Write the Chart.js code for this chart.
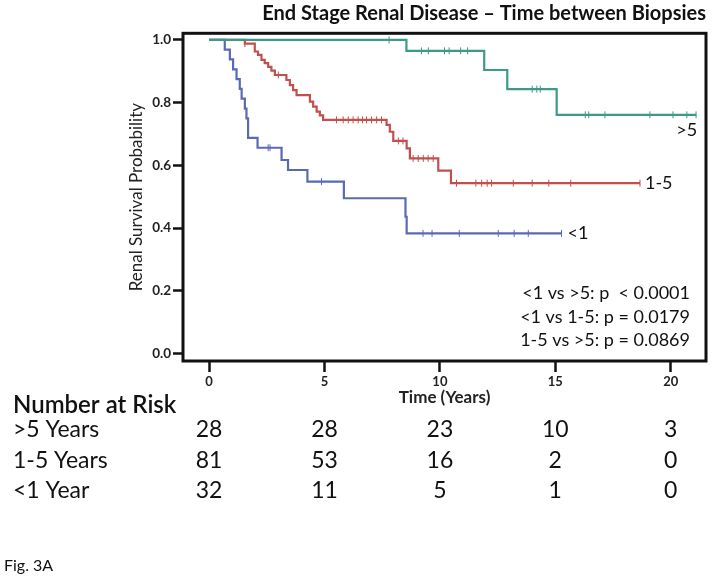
<!DOCTYPE html>
<html>
<head>
<meta charset="utf-8">
<script src="https://cdn.jsdelivr.net/npm/chart.js@4.4.1/dist/chart.umd.min.js"></script>
<style>
html, body { margin: 0; padding: 0; background: #fff; }
#wrap { position: relative; width: 714px; height: 584px; }
</style>
</head>
<body>
<div id="wrap"><canvas id="kmChart" width="714" height="584"></canvas></div>
<script>
var xTicks = [0, 5, 10, 15, 20];
var yTicks = [0, 0.2, 0.4, 0.6, 0.8, 1.0];
var groupNames = ['>5', '1-5', '<1'];
var groupColors = ['#3b9b88', '#c0504d', '#5a69b3'];

// >5 years between biopsies
var over5Times = [0, 8.55, 11.92, 12.92, 15.06];
var over5Surv = [1, 0.965, 0.904, 0.843, 0.761];
var over5End = 21.1;
var over5Censor = [7.8, 9.2, 9.5, 10.2, 10.4, 10.9, 11.2, 14.0, 14.2, 14.35, 16.3, 16.45, 17.15, 19.1, 20.1, 20.7, 21.1];

// 1-5 years
var mid5Times = [0, 1.55, 1.98, 2.12, 2.27, 2.41, 2.56, 2.70, 2.85, 3.35, 3.50, 3.64, 3.79, 4.37, 4.51, 4.66, 4.80, 4.94, 7.69, 7.83, 7.98, 8.56, 8.70, 9.93, 10.48];
var mid5Surv = [1, 0.988, 0.963, 0.952, 0.936, 0.926, 0.914, 0.902, 0.888, 0.872, 0.856, 0.840, 0.824, 0.803, 0.787, 0.771, 0.759, 0.745, 0.729, 0.707, 0.678, 0.654, 0.622, 0.583, 0.543];
var mid5End = 18.67;
var mid5Censor = [1.55, 3.0, 5.52, 5.81, 6.03, 6.24, 6.46, 6.65, 6.82, 7.04, 7.26, 7.47, 8.2, 8.4, 8.84, 9.06, 9.28, 9.49, 9.71, 10.72, 11.56, 11.81, 12.05, 12.24, 13.18, 14.0, 14.72, 15.67, 18.67];

// <1 year
var under1Times = [0, 0.68, 0.9, 1.04, 1.19, 1.33, 1.41, 1.55, 1.62, 1.69, 2.1, 3.14, 3.42, 4.26, 5.84, 8.51, 8.56];
var under1Surv = [1, 0.969, 0.938, 0.906, 0.875, 0.844, 0.8125, 0.781, 0.75, 0.6875, 0.656, 0.617, 0.585, 0.548, 0.495, 0.436, 0.383];
var under1End = 15.27;
var under1Censor = [2.56, 2.64, 4.87, 9.27, 9.66, 10.84, 12.53, 13.22, 13.83, 15.27];

var riskRows = ['>5 Years', '1-5 Years', '<1 Year'];
var riskOver5 = [28, 28, 23, 10, 3];
var riskMid5 = [81, 53, 16, 2, 0];
var riskUnder1 = [32, 11, 5, 1, 0];

var pValues = ['<1 vs >5: p  < 0.0001', '<1 vs 1-5: p = 0.0179', '1-5 vs >5: p = 0.0869'];

function stepPoints(times, surv, end) {
    var pts = times.map(function(t, i) {
        return { x: t, y: surv[i] };
    });
    pts.push({ x: end, y: surv[surv.length - 1] });
    return pts;
}

function censorPoints(times, surv, censor) {
    return censor.map(function(c) {
        var level = surv[0];
        for (var i = 0; i < times.length; i++) {
            if (times[i] <= c) level = surv[i];
        }
        return { x: c, y: level };
    });
}

function curve(label, color, times, surv, end) {
    return {
        type: 'line',
        label: label,
        data: stepPoints(times, surv, end),
        borderColor: color,
        borderWidth: 2.2,
        stepped: true,
        pointRadius: 0,
        fill: false
    };
}

function censors(label, color, times, surv, censor) {
    return {
        type: 'scatter',
        label: label + ' censored',
        data: censorPoints(times, surv, censor),
        pointStyle: 'line',
        rotation: 90,
        pointRadius: 3.5,
        borderColor: color,
        borderWidth: 1,
        backgroundColor: color
    };
}

var fontFam = 'Lato, "DejaVu Sans", sans-serif';

var framePlugin = {
    id: 'frame',
    afterDatasetsDraw: function(chart) {
        var c = chart.ctx, a = chart.chartArea;
        c.save();
        c.strokeStyle = '#111';
        c.lineWidth = 3;
        c.strokeRect(a.left, a.top, a.right - a.left, a.bottom - a.top);

        // curve end labels
        c.fillStyle = '#111';
        c.font = '18px ' + fontFam;
        c.textBaseline = 'middle';
        var offsets = [[1, 15, 'right'], [5, 0, 'left'], [6, 0, 'left']];
        for (var i = 0; i < 3; i++) {
            var meta = chart.getDatasetMeta(i);
            var last = meta.data[meta.data.length - 1];
            c.textAlign = offsets[i][2];
            c.fillText(groupNames[i], last.x + offsets[i][0], last.y + offsets[i][1]);
        }

        // p-values
        c.font = '18px ' + fontFam;
        c.textAlign = 'right';
        pValues.forEach(function(t, i) {
            c.fillText(t, a.right - 16, a.bottom - 68 + i * 23.7);
        });

        // number at risk table
        var xs = chart.scales.x;
        c.textAlign = 'left';
        c.font = '600 24px ' + fontFam;
        c.fillText('Number at Risk', 13, 405);
        var rows = [riskOver5, riskMid5, riskUnder1];
        c.font = '23px ' + fontFam;
        rows.forEach(function(row, r) {
            var y = 430 + r * 30.5;
            c.textAlign = 'left';
            c.fillText(riskRows[r], 13, y);
            c.textAlign = 'center';
            row.forEach(function(v, j) {
                c.fillText(String(v), xs.getPixelForValue(xTicks[j]), y);
            });
        });

        c.textAlign = 'left';
        c.font = '16px ' + fontFam;
        c.fillText('Fig. 3A', 4, 566);
        c.restore();
    }
};

var ctx = document.getElementById('kmChart');
var kmChart = new Chart(ctx.getContext('2d'), {
    type: 'line',
    data: {
        datasets: [
            curve(groupNames[0], groupColors[0], over5Times, over5Surv, over5End),
            curve(groupNames[1], groupColors[1], mid5Times, mid5Surv, mid5End),
            curve(groupNames[2], groupColors[2], under1Times, under1Surv, under1End),
            censors(groupNames[0], groupColors[0], over5Times, over5Surv, over5Censor),
            censors(groupNames[1], groupColors[1], mid5Times, mid5Surv, mid5Censor),
            censors(groupNames[2], groupColors[2], under1Times, under1Surv, under1Censor)
        ]
    },
    options: {
        responsive: false,
        animation: false,
        layout: { padding: { right: 8 } },
        plugins: {
            legend: { display: false },
            tooltip: { enabled: false },
            title: {
                display: true,
                text: 'End Stage Renal Disease \u2013 Time between Biopsies',
                align: 'end',
                color: '#111',
                font: { family: fontFam, size: 20, weight: 'bold' },
                padding: { top: 2, bottom: 7.3 }
            }
        },
        scales: {
            x: {
                type: 'linear',
                min: -1.13,
                max: 21.53,
                afterBuildTicks: function(s) {
                    s.ticks = xTicks.map(function(v) { return { value: v }; });
                },
                afterFit: function(s) { s.height = 223; },
                grid: { drawOnChartArea: false, drawTicks: true, tickLength: 11, tickWidth: 2.5, tickColor: '#111' },
                border: { display: false },
                ticks: { font: { family: fontFam, size: 13, weight: 'bold' }, color: '#222', padding: 2, maxRotation: 0 },
                title: {
                    display: true,
                    text: 'Time (Years)',
                    color: '#222',
                    font: { family: fontFam, size: 17, weight: 'bold' },
                    padding: { top: 0, bottom: 175.8 }
                }
            },
            y: {
                min: -0.024,
                max: 1.021,
                afterBuildTicks: function(s) {
                    s.ticks = yTicks.map(function(v) { return { value: v }; });
                },
                afterFit: function(s) { s.width = 183; },
                grid: { drawOnChartArea: false, drawTicks: true, tickLength: 10, tickWidth: 2.5, tickColor: '#111' },
                border: { display: false },
                ticks: {
                    font: { family: fontFam, size: 13.5, weight: 'bold' },
                    color: '#222',
                    padding: 2,
                    callback: function(v) { return v.toFixed(1); }
                },
                title: {
                    display: true,
                    text: 'Renal Survival Probability',
                    color: '#222',
                    font: { family: fontFam, size: 17 },
                    padding: { top: 126.8, bottom: 0 }
                }
            }
        }
    },
    plugins: [framePlugin]
});
</script>
</body>
</html>
